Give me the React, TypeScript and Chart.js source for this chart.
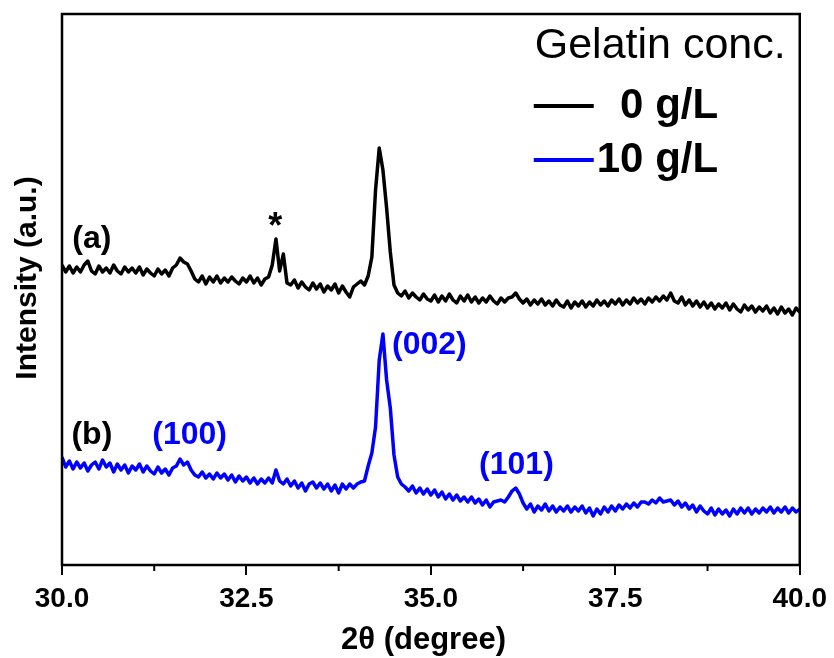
import React, { useEffect, useRef } from "react";
import { Chart, registerables } from "chart.js";

Chart.register(...registerables);

// 2θ grid: 30.00° to 40.00°, step 0.05°
const START_ANGLE = 30;
const STEP_ANGLE = 0.05;

// (a) 0 g/L gelatin, intensity (a.u.)
const intensity0 = [
  600, 586, 598, 584, 596, 586, 600, 608, 588, 582, 598, 586, 594, 584, 600, 588, 582, 596, 586, 594,
  584, 596, 580, 592, 584, 578, 592, 582, 590, 578, 594, 600, 614, 606, 602, 588, 572, 566, 578, 562,
  576, 566, 578, 564, 574, 566, 576, 568, 562, 574, 566, 578, 564, 574, 560, 572, 576, 600, 652, 588,
  622, 564, 560, 570, 554, 566, 556, 550, 564, 552, 562, 546, 558, 550, 562, 544, 558, 546, 536, 556,
  562, 568, 560, 578, 616, 750, 834, 790, 714, 626, 560, 544, 538, 548, 534, 544, 536, 530, 542, 532,
  528, 540, 526, 538, 528, 542, 530, 524, 538, 528, 540, 526, 536, 524, 534, 526, 538, 528, 522, 534,
  526, 534, 536, 544, 532, 524, 532, 520, 530, 522, 532, 520, 528, 518, 530, 520, 516, 528, 514, 526,
  518, 528, 516, 526, 518, 530, 520, 528, 518, 530, 522, 532, 520, 530, 522, 534, 524, 532, 522, 534,
  526, 536, 528, 538, 530, 544, 528, 524, 536, 520, 530, 518, 528, 516, 526, 514, 524, 512, 522, 514,
  524, 510, 522, 512, 506, 520, 510, 518, 506, 516, 508, 518, 504, 514, 502, 516, 504, 512, 500, 514, 506,
];

// (b) 10 g/L gelatin, intensity (a.u.)
const intensity10 = [
  216, 196, 208, 192, 206, 194, 204, 188, 200, 206, 192, 210, 196, 204, 186, 202, 190, 200, 184, 198,
  190, 202, 186, 198, 188, 182, 196, 184, 192, 180, 194, 198, 212, 200, 206, 190, 180, 176, 186, 174,
  182, 172, 184, 174, 182, 170, 180, 166, 178, 168, 176, 164, 174, 162, 172, 164, 174, 164, 190, 168,
  162, 172, 158, 168, 154, 164, 148, 162, 166, 154, 164, 152, 162, 148, 160, 144, 162, 152, 162, 154,
  162, 166, 168, 198, 224, 276, 410, 462, 370, 314, 220, 176, 162, 156, 148, 158, 144, 154, 142, 152,
  140, 150, 136, 146, 132, 142, 130, 140, 128, 136, 126, 136, 124, 132, 120, 130, 116, 126, 128, 130,
  126, 136, 148, 154, 142, 124, 112, 122, 106, 118, 110, 122, 108, 118, 106, 116, 108, 118, 106, 116,
  108, 118, 104, 114, 98, 112, 102, 116, 106, 118, 108, 120, 112, 122, 114, 124, 116, 126, 126, 122,
  130, 124, 134, 126, 128, 130, 120, 128, 116, 124, 112, 120, 106, 118, 108, 102, 114, 100, 112, 102,
  110, 98, 112, 102, 114, 104, 114, 102, 112, 104, 114, 106, 116, 104, 114, 106, 116, 104, 114, 106, 112,
];

const twoTheta = intensity0.map((_, i) => +(START_ANGLE + i * STEP_ANGLE).toFixed(2));

const seriesLabels = ["0 g/L", "10 g/L"];
const seriesColors = ["#000000", "#0000ff"];
const legendTitle = "Gelatin conc.";

const xMin = 30;
const xMax = 40;
const xStep = 2.5;
const minorTicks = [31.25, 33.75, 36.25, 38.75];
const yMin = 0;
const yMax = 1102;

const xTitle = "2\u03b8 (degree)";
const yTitle = "Intensity (a.u.)";

// annotations (text, 2θ position, intensity position)
const annTexts = ["(a)", "*", "(b)", "(100)", "(002)", "(101)"];
const annX = [30.405, 32.89, 30.405, 31.73, 34.98, 36.16];
const annY = [652, 674, 260, 260, 440, 200];
const annColors = ["#000000", "#000000", "#000000", "#0000ff", "#0000ff", "#0000ff"];

const FONT = "'Liberation Sans', Arial, Helvetica, sans-serif";

const decorPlugin = {
  id: "decor",
  afterDatasetsDraw(chart: any) {
    const { ctx, chartArea: a, scales } = chart;
    const x = scales.x;
    const y = scales.y;
    ctx.save();

    // frame
    ctx.strokeStyle = "#000";
    ctx.lineWidth = 2.5;
    ctx.strokeRect(a.left, a.top, a.right - a.left, a.bottom - a.top);

    // minor ticks
    ctx.lineWidth = 2;
    minorTicks.forEach((v) => {
      const px = x.getPixelForValue(v);
      ctx.beginPath();
      ctx.moveTo(px, a.bottom);
      ctx.lineTo(px, a.bottom + 6);
      ctx.stroke();
    });

    // annotations
    ctx.textAlign = "center";
    ctx.textBaseline = "middle";
    annTexts.forEach((t, i) => {
      const size = t === "*" ? 36 : 32;
      ctx.font = `bold ${size}px ${FONT}`;
      ctx.fillStyle = annColors[i];
      ctx.fillText(t, x.getPixelForValue(annX[i]), y.getPixelForValue(annY[i]));
    });

    // legend
    ctx.textAlign = "left";
    ctx.fillStyle = "#000";
    ctx.font = `43px ${FONT}`;
    ctx.fillText(legendTitle, a.right - 265, a.top + 32);
    const rowY = [a.top + 92, a.top + 146];
    seriesLabels.forEach((lab, i) => {
      ctx.strokeStyle = seriesColors[i];
      ctx.lineWidth = 4;
      ctx.beginPath();
      ctx.moveTo(a.right - 266, rowY[i]);
      ctx.lineTo(a.right - 206, rowY[i]);
      ctx.stroke();
      ctx.font = `bold 42px ${FONT}`;
      ctx.fillStyle = "#000";
      const digitW = ctx.measureText("0").width;
      const lx = a.right - 203 + (lab.length < 6 ? digitW : 0);
      ctx.fillText(lab, lx, rowY[i]);
    });

    // axis titles
    ctx.fillStyle = "#000";
    ctx.font = `bold 31px ${FONT}`;
    ctx.textAlign = "center";
    ctx.fillText(xTitle, a.left + 361.5, a.bottom + 75);

    ctx.font = `bold 30px ${FONT}`;
    ctx.translate(a.left - 34, a.top + 264);
    ctx.rotate(-Math.PI / 2);
    ctx.fillText(yTitle, 0, 0);

    ctx.restore();
  },
};

export default function App() {
  const canvasRef = useRef<HTMLCanvasElement | null>(null);

  useEffect(() => {
    document.body.style.margin = "0";
    const canvas = canvasRef.current;
    if (!canvas) return;
    const chart = new Chart(canvas, {
      type: "line",
      data: {
        datasets: [
          {
            label: seriesLabels[0],
            data: twoTheta.map((t, i) => ({ x: t, y: intensity0[i] })),
            borderColor: seriesColors[0],
            backgroundColor: seriesColors[0],
            borderWidth: 3.5,
            pointRadius: 0,
            tension: 0,
            borderJoinStyle: "round",
          },
          {
            label: seriesLabels[1],
            data: twoTheta.map((t, i) => ({ x: t, y: intensity10[i] })),
            borderColor: seriesColors[1],
            backgroundColor: seriesColors[1],
            borderWidth: 3.5,
            pointRadius: 0,
            tension: 0,
            borderJoinStyle: "round",
          },
        ],
      },
      options: {
        responsive: false,
        animation: false,
        devicePixelRatio: 1,
        layout: { padding: { left: 62, top: 14, right: 32, bottom: 0 } },
        plugins: {
          legend: { display: false },
          tooltip: { enabled: false },
          title: { display: false },
        },
        scales: {
          x: {
            type: "linear",
            min: xMin,
            max: xMax,
            border: { display: false },
            grid: {
              display: true,
              drawOnChartArea: false,
              drawTicks: true,
              tickLength: 10,
              color: "#000",
              lineWidth: 2,
            },
            ticks: {
              stepSize: xStep,
              color: "#000",
              padding: 7,
              maxRotation: 0,
              font: { family: FONT, size: 28, weight: "bold" },
              callback: (v: any) => Number(v).toFixed(1),
            },
            afterFit: (s: any) => {
              s.height = 93;
            },
          },
          y: {
            type: "linear",
            display: false,
            min: yMin,
            max: yMax,
          },
        },
      },
      plugins: [decorPlugin],
    } as any);
    return () => chart.destroy();
  }, []);

  return (
    <div style={{ width: 834, height: 658 }}>
      <canvas ref={canvasRef} width={834} height={658} style={{ display: "block" }} />
    </div>
  );
}
